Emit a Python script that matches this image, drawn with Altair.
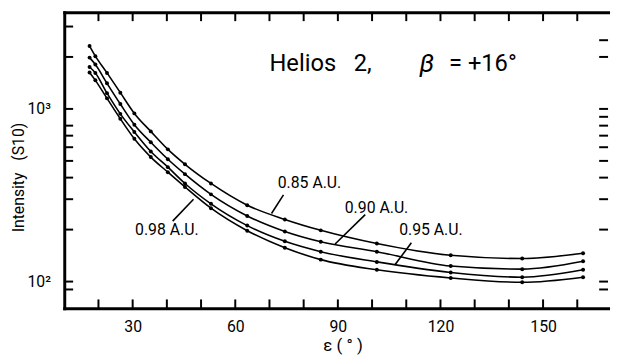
import altair as alt
import pandas as pd

# --- data ---
eps = [17.4, 19.1, 22.5, 26.4, 30.5, 35.3, 40.3, 45.3, 52.9, 63.5, 74.5, 85.0, 101.4, 123.0, 143.9, 161.7]
i085 = [2312, 2021, 1616, 1242, 942, 741, 583, 478, 370, 277, 229, 198, 166, 142, 136, 146]
i090 = [1982, 1807, 1407, 1067, 810, 641, 511, 419, 320, 240, 195, 170, 149, 123, 118, 131]
i095 = [1749, 1616, 1234, 936, 735, 567, 460, 370, 282, 211, 171, 149, 130, 113, 106, 117]
i098 = [1626, 1464, 1151, 876, 671, 526, 430, 353, 266, 197, 157, 134, 117, 105, 99, 106]
series = ["0.85 A.U.", "0.90 A.U.", "0.95 A.U.", "0.98 A.U."]

# label positions (data coords) and leader lines
lab_eps = [81.7, 101.3, 117.2, 40.0]
lab_val = [372, 268, 200, 199]
lead_e1 = [74.1, 98.0, 111.5, 47.8]
lead_v1 = [318, 244, 168, 300]
lead_e2 = [70.6, 89.2, 106.7, 41.7]
lead_v2 = [248, 165, 125, 224]

x_labels = [30, 60, 90, 120, 150]
x_minor = [20, 30, 40, 50, 60, 70, 80, 90, 100, 110, 120, 130, 140, 150, 160]
y_labels = [100, 1000]
y_minor_left = [90, 100, 200, 300, 400, 500, 600, 700, 800, 1000, 2000, 3000]
y_minor_right = [90, 100, 200, 300, 400, 500, 600, 700, 800, 900, 1000, 2000, 2500]

rows = []
for name, vals in zip(series, [i085, i090, i095, i098]):
    for e, v in zip(eps, vals):
        rows.append({"eps": e, "intensity": v, "dist": name})
df = pd.DataFrame(rows)

labels_df = pd.DataFrame({"eps": lab_eps, "intensity": lab_val, "label": series})
lead_df = pd.DataFrame({"e1": lead_e1, "v1": lead_v1, "e2": lead_e2, "v2": lead_v2})

FONT = "Roboto"
W, H = 551, 300
XS = alt.Scale(domain=[10, 169], nice=False, zero=False)
YS = alt.Scale(type="log", domain=[70, 3630], nice=False)

curves = alt.Chart(df).mark_line(color="black", strokeWidth=1.6, interpolate="monotone").encode(
    x=alt.X("eps:Q", scale=XS, axis=alt.Axis(
        orient="bottom", values=x_labels, ticks=False, tickSize=0, grid=False,
        domainWidth=3, domainColor="black", domainCap="square",
        labelPadding=10, labelFontSize=16, labelFont=FONT, labelColor="black",
        title="ε\u00a0(\u00a0°\u00a0)", titleFont=FONT, titleFontSize=17, titleFontWeight="normal",
        titleColor="black", titlePadding=4, titleX=282)),
    y=alt.Y("intensity:Q", scale=YS, axis=alt.Axis(
        orient="left", values=y_labels, ticks=False, tickSize=0, grid=False,
        domainWidth=3, domainColor="black", domainCap="square",
        labelExpr="datum.value == 1000 ? '10³' : '10²'",
        labelPadding=14, labelFontSize=16, labelFont=FONT, labelColor="black",
        title="Intensity\u00a0\u00a0\u00a0(S10)", titleFont=FONT, titleFontSize=16,
        titleFontWeight="normal", titleColor="black", titleAngle=270,
        titleBaseline="middle", titleX=-46, titleY=167)),
    detail="dist:N",
)

points = alt.Chart(df).mark_circle(color="black", size=16, opacity=1).encode(
    x=alt.X("eps:Q", scale=XS, axis=alt.Axis(
        orient="top", labels=False, ticks=False, tickSize=0, grid=False,
        domainWidth=3, domainColor="black", domainCap="square", title=None)),
    y=alt.Y("intensity:Q", scale=YS, axis=None),
)

tick_style = dict(color="black", strokeWidth=2)
left_ticks = alt.Chart(pd.DataFrame({"v": y_minor_left})).mark_rule(**tick_style).encode(
    y=alt.Y("v:Q", scale=YS, axis=None), x=alt.value(0), x2=alt.value(9))
right_ticks = alt.Chart(pd.DataFrame({"v": y_minor_right})).mark_rule(**tick_style).encode(
    y=alt.Y("v:Q", scale=YS, axis=None), x=alt.value(W - 9), x2=alt.value(W))
bottom_ticks = alt.Chart(pd.DataFrame({"v": x_minor})).mark_rule(**tick_style).encode(
    x=alt.X("v:Q", scale=XS, axis=None), y=alt.value(H - 9), y2=alt.value(H))
top_ticks = alt.Chart(pd.DataFrame({"v": x_minor})).mark_rule(**tick_style).encode(
    x=alt.X("v:Q", scale=XS, axis=None), y=alt.value(0), y2=alt.value(9))

leaders = alt.Chart(lead_df).mark_rule(color="black", strokeWidth=1.6).encode(
    x=alt.X("e1:Q", scale=XS, axis=None), y=alt.Y("v1:Q", scale=YS, axis=None),
    x2="e2:Q", y2="v2:Q")

labels = alt.Chart(labels_df).mark_text(font=FONT, fontSize=16, color="black",
                                        align="center", baseline="middle").encode(
    x=alt.X("eps:Q", scale=XS, axis=None), y=alt.Y("intensity:Q", scale=YS, axis=None),
    text="label:N")

title_df = pd.DataFrame({
    "eps": [70.0, 113.9, 122.5],
    "intensity": [1807, 1807, 1807],
    "txt": ["Helios\u00a0\u00a0\u00a02,", "β", "=\u00a0+16°"],
    "style": ["normal", "italic", "normal"],
})
title_a = alt.Chart(title_df[title_df["style"] == "normal"]).mark_text(
    font=FONT, fontSize=24, color="black", align="left", baseline="middle").encode(
    x=alt.X("eps:Q", scale=XS, axis=None), y=alt.Y("intensity:Q", scale=YS, axis=None),
    text="txt:N")
title_b = alt.Chart(title_df[title_df["style"] == "italic"]).mark_text(
    font=FONT, fontSize=26, fontStyle="italic", color="black", align="left",
    baseline="middle").encode(
    x=alt.X("eps:Q", scale=XS, axis=None), y=alt.Y("intensity:Q", scale=YS, axis=None),
    text="txt:N")

chart = alt.layer(
    curves, points, left_ticks, right_ticks, bottom_ticks, top_ticks,
    leaders, labels, title_a, title_b,
).resolve_axis(x="independent", y="independent").properties(
    width=W, height=H,
    padding={"left": 57, "top": 2, "right": 4, "bottom": 45},
    autosize=alt.AutoSizeParams(type="none"),
    background="white",
).configure_view(stroke=None)

chart.save("out.html", embed_options={"renderer": "svg", "actions": False})
